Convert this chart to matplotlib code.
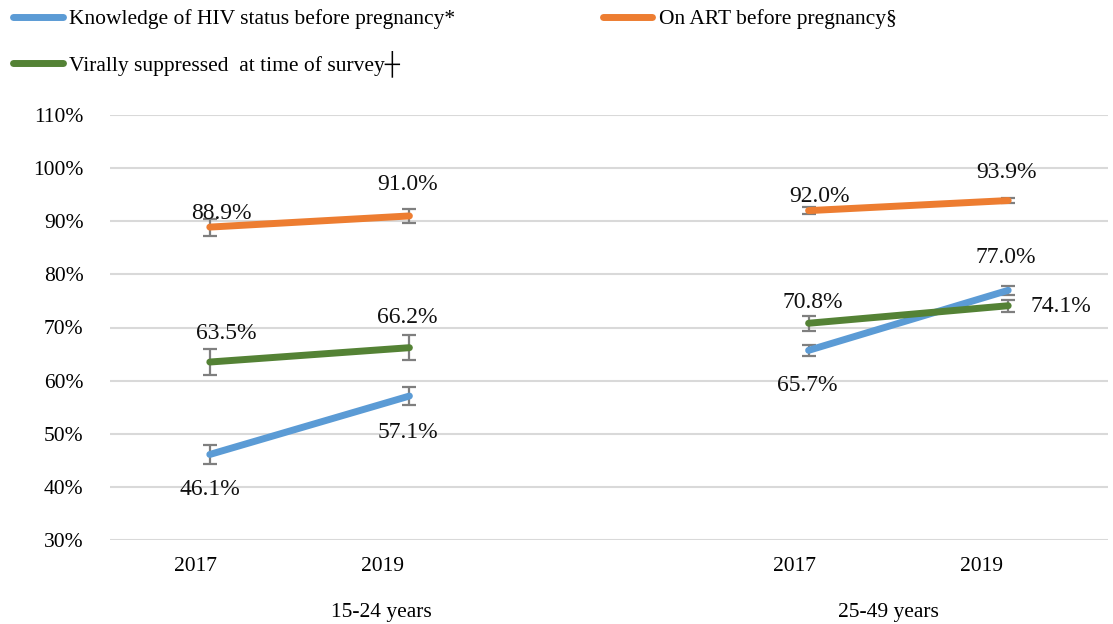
import matplotlib
matplotlib.use("Agg")
import matplotlib.pyplot as plt
from matplotlib.ticker import FuncFormatter

plt.rcParams['font.family'] = ['Liberation Serif', 'DejaVu Serif']

# Data
positions = [0, 1, 3, 4]
year_labels = ["2017", "2019", "2017", "2019"]
year_label_pos = [-0.07, 0.865, 2.93, 3.865]
groups = ["15-24 years", "25-49 years"]
group_pos = [0.86, 3.4]

series_names = ["Knowledge of HIV status before pregnancy*",
                "On ART before pregnancy§",
                "Virally suppressed  at time of survey┼"]
knowledge = [46.1, 57.1, 65.7, 77.0]
knowledge_err = [1.7, 1.7, 1.1, 0.9]
on_art = [88.9, 91.0, 92.0, 93.9]
on_art_err = [1.6, 1.3, 0.6, 0.55]
suppressed = [63.5, 66.2, 70.8, 74.1]
suppressed_err = [2.4, 2.3, 1.4, 1.1]

colors = ["#5B9BD5", "#ED7D31", "#548235"]

fig = plt.figure(figsize=(11.13, 6.24), dpi=100)
ax = fig.add_axes([110/1113, 1-540/624, (1108-110)/1113, (540-115)/624])

all_vals = [knowledge, on_art, suppressed]
all_errs = [knowledge_err, on_art_err, suppressed_err]
handles = []
for vals, errs, c, name in zip(all_vals, all_errs, colors, series_names):
    for seg in (slice(0, 2), slice(2, 4)):
        ax.errorbar(positions[seg], vals[seg], yerr=errs[seg], fmt='none',
                    ecolor="#7f7f7f", elinewidth=1.6, capsize=5, capthick=1.6, zorder=3)
        h, = ax.plot(positions[seg], vals[seg], color=c, lw=5, solid_capstyle='round', zorder=4)
    handles.append(h)

# Data label offsets (pixels, x right / y up)
label_offsets = {
    0: [(0, -35), (-2, -36), (-1, -35), (-2, 33)],   # knowledge
    1: [(12, 14), (-2, 31), (11, 14), (-2, 28)],     # on ART
    2: [(16, 29), (-2, 30), (4, 21), (53, -1)],      # suppressed
}
for si, vals in enumerate(all_vals):
    for i, (x, v) in enumerate(zip(positions, vals)):
        dx, dy = label_offsets[si][i]
        ax.annotate(f"{v:.1f}%", (x, v), xytext=(dx*0.72, dy*0.72), textcoords='offset points',
                    ha='center', va='center', fontsize=17, color='#111111', zorder=5)

ax.set_xlim(-0.5, 4.5)
ax.set_ylim(30, 110)
ax.set_yticks(range(30, 111, 10))
ax.yaxis.set_major_formatter(FuncFormatter(lambda v, p: f"{int(v)}%"))
ax.grid(axis='y', color='#d9d9d9', lw=1.5)
ax.set_axisbelow(True)
for s in ax.spines.values():
    s.set_visible(False)
ax.tick_params(axis='y', length=0, pad=19, labelsize=15.5)
ax.set_xticks(year_label_pos)
ax.set_xticklabels(year_labels)
ax.tick_params(axis='x', length=0, pad=12, labelsize=15.5)

for gp, g in zip(group_pos, groups):
    ax.text(gp, -0.17, g, transform=ax.get_xaxis_transform(), ha='center', va='center', fontsize=15.5)

order = [0, 2, 1]
leg = fig.legend([handles[i] for i in order], [series_names[i] for i in order],
                 loc='upper left', bbox_to_anchor=(-0.0054, 1.0166),
                 ncol=2, frameon=False, fontsize=15.5, handlelength=2.3, handletextpad=0.3,
                 columnspacing=6.85, labelspacing=1.0)
for line in leg.get_lines():
    line.set_linewidth(5)

fig.savefig("out.png", dpi=100)
